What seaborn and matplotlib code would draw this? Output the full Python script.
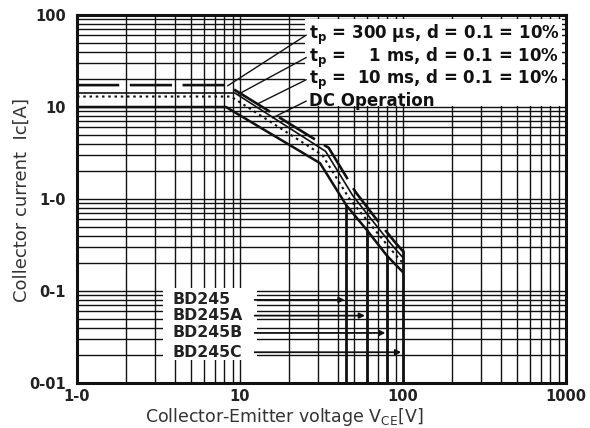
import numpy as np
import pandas as pd
import matplotlib
matplotlib.use('Agg')
import matplotlib.pyplot as plt
import seaborn as sns
from matplotlib.ticker import FixedLocator, FixedFormatter, LogLocator, NullFormatter
from matplotlib.patches import Rectangle

# ---------------- data ----------------
x_ticks = [1, 10, 100, 1000]
x_tick_labels = ['1-0', '10', '100', '1000']
y_ticks = [0.01, 0.1, 1, 10, 100]
y_tick_labels = ['0-01', '0-1', '1-0', '10', '100']

dc_v = [1, 8.2, 31, 45, 60, 80, 100]
dc_i = [10, 10, 2.45, 0.85, 0.46, 0.24, 0.16]
ms10_v = [1, 8.8, 32, 47, 62, 82, 100]
ms10_i = [13, 13, 3.0, 1.0, 0.55, 0.30, 0.20]
ms1_v = [1, 9.3, 33.5, 49, 64, 85, 100]
ms1_i = [14.2, 14.2, 3.3, 1.1, 0.60, 0.32, 0.23]
us300_v = [1, 8.3, 35, 51, 66, 88, 100]
us300_i = [17.3, 17.3, 3.6, 1.2, 0.66, 0.35, 0.27]

legend_texts = ['t$_\\mathbf{p}$ = 300 µs, d = 0.1 = 10%',
                't$_\\mathbf{p}$ =    1 ms, d = 0.1 = 10%',
                't$_\\mathbf{p}$ =  10 ms, d = 0.1 = 10%',
                'DC Operation']
legend_text_i = [60.5, 34.5, 19.8, 11.6]
leader_end_v = [8.4, 9.8, 12.8, 15.8]
leader_end_i = [17.0, 13.8, 10.8, 7.6]

variants = ['BD245', 'BD245A', 'BD245B', 'BD245C']
vceo = [45, 60, 80, 100]
vceo_top = [0.85, 0.46, 0.24, 0.27]
label_i = [0.080, 0.054, 0.035, 0.0216]

# ---------------- style ----------------
sns.set_theme(style='white')
plt.rcParams['font.family'] = ['DejaVu Sans']
plt.rcParams['mathtext.fontset'] = 'custom'
plt.rcParams['mathtext.bf'] = 'DejaVu Sans:bold'
plt.rcParams['mathtext.rm'] = 'DejaVu Sans'

fig = plt.figure(figsize=(5.9, 4.28), dpi=100, facecolor='white')
ax = fig.add_axes([77/590, 1-383/428, (566-77)/590, (383-15)/428])
ax.set_facecolor('white')

ax.set_xscale('log')
ax.set_yscale('log')
ax.set_xlim(1, 1000)
ax.set_ylim(0.01, 100)

ax.xaxis.set_major_locator(FixedLocator(x_ticks))
ax.xaxis.set_major_formatter(FixedFormatter(x_tick_labels))
ax.yaxis.set_major_locator(FixedLocator(y_ticks))
ax.yaxis.set_major_formatter(FixedFormatter(y_tick_labels))
ax.xaxis.set_minor_locator(LogLocator(base=10, subs=np.arange(2, 10), numticks=20))
ax.yaxis.set_minor_locator(LogLocator(base=10, subs=np.arange(2, 10), numticks=20))
ax.xaxis.set_minor_formatter(NullFormatter())
ax.yaxis.set_minor_formatter(NullFormatter())
ax.tick_params(which='both', length=0)
ax.tick_params(axis='x', pad=4)
ax.tick_params(axis='y', pad=8)
for lab in ax.get_xticklabels() + ax.get_yticklabels():
    lab.set_fontweight('bold')
    lab.set_fontsize(10.5)
    lab.set_color('#222222')

ax.set_axisbelow(True)
ax.grid(which='both', color='#111111', lw=1.0)
for s in ax.spines.values():
    s.set_color('#111111')
    s.set_linewidth(2.2)

# white boxes behind the texts
ax.add_patch(Rectangle((25.0, 10.3), 944 - 25.0, 90.0 - 10.3, facecolor='white',
                       edgecolor='none', zorder=1))
ax.add_patch(Rectangle((3.37, 0.0178), 12.7 - 3.37, 0.108 - 0.0178, facecolor='white',
                       edgecolor='none', zorder=1))

# curves
curves = [
    (dc_v, dc_i, 'DC', '-', 1.8),
    (ms10_v, ms10_i, '10ms', (0, (1.2, 1.8)), 1.5),
    (ms1_v, ms1_i, '1ms', '-', 1.2),
    (us300_v, us300_i, '300us', (0, (16, 4)), 1.9),
]
for v, i, name, ls, lw in curves:
    df = pd.DataFrame({'V': v, 'I': i})
    sns.lineplot(data=df, x='V', y='I', ax=ax, sort=False, estimator=None,
                 color='#111111', lw=lw, linestyle=ls, zorder=3, legend=False)

# voltage limits of each type
for v, top in zip(vceo, vceo_top):
    df = pd.DataFrame({'V': [v, v], 'I': [0.01, top]})
    sns.lineplot(data=df, x='V', y='I', ax=ax, sort=False, estimator=None,
                 color='#111111', lw=2.0, zorder=3, legend=False)

ax.set_xlabel('')
ax.set_ylabel('')

# legend-like annotations
for txt, ti, ev, ei in zip(legend_texts, legend_text_i, leader_end_v, leader_end_i):
    ax.text(26.5, ti, txt, fontsize=12, fontweight='bold', color='#111111',
            ha='left', va='center', zorder=5)
    ax.annotate('', xy=(ev, ei), xytext=(25.5, ti),
                arrowprops=dict(arrowstyle='-', lw=1.0, color='#111111',
                                shrinkA=0, shrinkB=0), zorder=4)

# variant labels with arrows
for name, v, li in zip(variants, vceo, label_i):
    ax.text(3.83, li, name, fontsize=11.3, fontweight='bold', color='#222222',
            ha='left', va='center', zorder=5)
    ax.annotate('', xy=(v * 0.975, li), xytext=(12.3, li),
                arrowprops=dict(arrowstyle='-|>', lw=1.3, color='#111111',
                                mutation_scale=8, shrinkA=0, shrinkB=0), zorder=4)

fig.text(22/590, 1-200/428, 'Collector current  Ic[A]', rotation=90, fontsize=13,
         color='#333333', ha='center', va='center')
fig.text(284/590, 1-417/428, 'Collector-Emitter voltage V$_\\mathregular{CE}$[V]',
         fontsize=12.5, color='#333333', ha='center', va='center')

fig.savefig('out.png', dpi=100, facecolor='white')
